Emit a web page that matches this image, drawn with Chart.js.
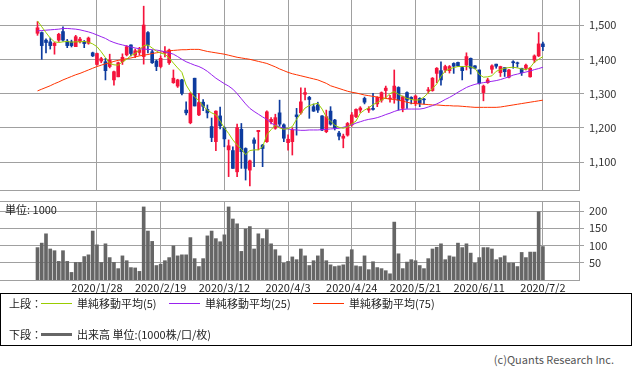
<!DOCTYPE html>
<html>
<head>
<meta charset="utf-8">
<script src="https://cdn.jsdelivr.net/npm/chart.js@4.4.1/dist/chart.umd.min.js"></script>
<style>
  body { margin: 0; background: #fff; font-family: "Noto Sans CJK JP", "Noto Sans", sans-serif; }
  #wrap { position: relative; width: 633px; height: 374px; overflow: hidden; }
  canvas { position: absolute; left: 0; }
  #priceChart { top: 0; }
  #volChart { top: 195px; }
  .txt { position: absolute; font-size: 11px; line-height: 14px; color: #222; white-space: nowrap; }
  .legend { position: absolute; left: 0; top: 293px; width: 630px; height: 51px; border: 1px solid #000; }
  .swatch { position: absolute; width: 31px; height: 1px; }
  .copy { position: absolute; right: 19px; top: 351px; font-size: 11px; color: #555; }
</style>
</head>
<body>
<div id="wrap">
  <canvas id="priceChart" width="633" height="195"></canvas>
  <canvas id="volChart" width="633" height="100"></canvas>
  <div class="txt" style="left:5px;top:202px;">単位: 1000</div>
  <div class="legend">
    <div class="txt" style="left:8px;top:2px;">上段：</div>
    <div class="swatch" style="left:40px;top:9px;background:#99cc00;"></div>
    <div class="txt" style="left:76px;top:2px;">単純移動平均(5)</div>
    <div class="swatch" style="left:168px;top:9px;background:#9922ee;"></div>
    <div class="txt" style="left:204px;top:2px;">単純移動平均(25)</div>
    <div class="swatch" style="left:312px;top:9px;background:#ff3300;"></div>
    <div class="txt" style="left:348px;top:2px;">単純移動平均(75)</div>
    <div class="txt" style="left:8px;top:33px;">下段：</div>
    <div class="swatch" style="left:40px;top:39px;height:3px;background:#666;"></div>
    <div class="txt" style="left:76px;top:33px;">出来高 単位:(1000株/口/枚)</div>
  </div>
  <div class="copy">(c)Quants Research Inc.</div>
</div>
<script>
// daily prices, 2020/1/7 - 2020/7/2
const opens = [1476,1478,1456,1451,1440,1456,1481,1453,1451,1437,1452,1451,1447,1419,1385,1395,1393,1379,1340,1349,
  1393,1413,1442,1412,1420,1408,1478,1422,1395,1379,1418,1390,1332,1322,1340,1252,1215,1345,1238,1275,
  1254,1204,1160,1235,1200,1136,1134,1072,1196,1140,1077,1165,1189,1150,1160,1218,1199,1244,1209,1157,
  1160,1238,1244,1298,1289,1262,1267,1235,1189,1249,1223,1185,1170,1179,1209,1233,1252,1286,1252,1257,
  1270,1281,1309,1285,1286,1318,1257,1303,1289,1272,1286,1284,1309,1309,1359,1367,1369,1367,1388,1391,
  1376,1383,1403,1381,1369,1303,1332,1371,1386,1361,1376,1348,1393,1390,1374,1374,1349,1398,1410,1445];
const highs = [1510,1480,1460,1462,1450,1476,1495,1458,1456,1470,1464,1455,1465,1421,1418,1406,1403,1415,1366,1392,
  1416,1440,1442,1430,1435,1555,1481,1427,1398,1410,1437,1430,1369,1342,1342,1276,1303,1345,1301,1283,
  1267,1229,1250,1261,1203,1165,1145,1211,1213,1142,1106,1171,1193,1152,1250,1230,1240,1281,1212,1180,
  1200,1257,1317,1316,1292,1270,1275,1236,1252,1262,1225,1190,1182,1216,1245,1256,1262,1290,1262,1301,
  1291,1305,1322,1295,1369,1320,1293,1305,1291,1296,1288,1286,1318,1347,1376,1393,1383,1382,1390,1392,
  1379,1419,1404,1382,1369,1325,1345,1384,1386,1380,1376,1371,1396,1392,1374,1386,1376,1413,1478,1450];
const lows = [1470,1400,1419,1430,1415,1452,1453,1434,1436,1437,1448,1434,1444,1408,1383,1390,1340,1375,1325,1349,
  1385,1410,1410,1405,1412,1386,1419,1388,1367,1375,1407,1385,1330,1318,1296,1238,1212,1264,1236,1250,
  1229,1160,1134,1197,1145,1058,1082,1058,1082,1048,1031,1087,1136,1087,1158,1212,1196,1205,1160,1135,
  1121,1179,1240,1282,1228,1248,1245,1192,1186,1208,1194,1165,1142,1176,1205,1230,1245,1270,1245,1252,
  1262,1275,1286,1275,1272,1252,1247,1257,1270,1265,1262,1270,1301,1307,1332,1325,1362,1360,1359,1380,
  1340,1369,1357,1372,1328,1279,1330,1360,1374,1350,1350,1346,1374,1377,1353,1369,1348,1390,1408,1425];
const closes = [1492,1440,1449,1440,1447,1473,1456,1440,1440,1466,1459,1446,1462,1410,1417,1402,1367,1398,1364,1390,
  1406,1437,1417,1425,1428,1500,1442,1390,1379,1403,1421,1427,1345,1340,1301,1244,1301,1264,1274,1263,
  1244,1172,1249,1206,1168,1148,1082,1201,1131,1082,1104,1155,1193,1140,1247,1225,1230,1211,1170,1167,
  1194,1233,1276,1303,1283,1249,1252,1194,1233,1211,1200,1176,1176,1213,1238,1254,1258,1275,1256,1254,
  1289,1303,1316,1287,1322,1281,1291,1281,1285,1293,1272,1282,1311,1345,1374,1340,1379,1379,1380,1381,
  1367,1408,1374,1374,1330,1322,1340,1381,1380,1379,1364,1369,1390,1388,1361,1383,1374,1410,1445,1437];
const volumes = [94,107,134,90,85,54,85,54,22,51,51,68,73,142,102,51,105,65,51,33,
  70,56,36,35,25,212,142,112,42,46,56,65,99,70,73,73,123,62,39,62,
  128,142,120,111,131,212,177,163,83,148,155,90,134,120,146,105,88,70,49,54,
  67,59,90,70,42,56,70,90,56,44,39,41,44,67,88,41,39,70,30,53,
  36,33,27,18,168,76,33,52,59,56,42,33,62,90,95,105,59,70,67,107,
  94,105,78,49,65,94,94,90,59,65,70,49,49,39,80,65,81,81,198,97];
const ma5 = [1512,1495,1478,1462,1451,1449,1451,1452,1450,1451,1451,1452,1450,1445,1437,1422,1405,1388,1384,1383,
  1393,1400,1411,1417,1427,1440,1442,1433,1424,1418,1415,1404,1389,1375,1362,1325,1305,1290,1280,1264,
  1252,1244,1238,1220,1200,1184,1165,1150,1138,1122,1134,1136,1136,1145,1180,1195,1208,1200,1196,1198,
  1204,1225,1242,1258,1265,1269,1272,1255,1232,1220,1208,1202,1199,1203,1212,1220,1243,1252,1259,1268,
  1274,1281,1288,1300,1306,1298,1292,1286,1283,1281,1282,1290,1302,1315,1328,1350,1366,1372,1376,1379,
  1379,1379,1378,1374,1356,1348,1349,1352,1365,1370,1374,1376,1377,1375,1372,1370,1376,1392,1400,1408];
const ma25 = [1483,1484,1485,1486,1487,1488,1490,1490,1489,1488,1486,1483,1480,1476,1471,1466,1461,1454,1449,1445,
  1442,1439,1436,1433,1431,1430,1429,1428,1427,1425,1422,1419,1415,1408,1400,1393,1388,1383,1379,1373,
  1365,1355,1345,1337,1329,1322,1313,1300,1285,1270,1257,1248,1240,1232,1225,1214,1208,1203,1199,1197,
  1195,1194,1193,1193,1194,1194,1194,1195,1196,1197,1198,1199,1202,1205,1209,1214,1218,1222,1225,1227,
  1230,1234,1239,1243,1248,1252,1254,1255,1255,1255,1255,1257,1261,1265,1270,1276,1283,1289,1296,1304,
  1311,1318,1323,1327,1330,1332,1334,1336,1338,1341,1345,1349,1354,1357,1360,1363,1366,1370,1373,1377];
const ma75 = [1308,1313,1318,1323,1329,1334,1340,1345,1350,1355,1359,1364,1369,1374,1379,1383,1387,1390,1394,1397,
  1399,1402,1404,1407,1410,1412,1414,1417,1419,1421,1423,1425,1426,1427,1428,1428,1429,1429,1429,1426,
  1423,1421,1419,1417,1415,1412,1409,1406,1404,1402,1400,1397,1394,1391,1388,1383,1378,1372,1367,1362,
  1358,1355,1352,1349,1346,1343,1340,1335,1330,1323,1319,1315,1311,1307,1304,1302,1299,1296,1294,1292,
  1290,1288,1286,1284,1283,1281,1278,1275,1272,1271,1270,1269,1268,1267,1267,1266,1265,1265,1264,1264,
  1263,1262,1261,1260,1260,1260,1260,1260,1260,1261,1263,1265,1267,1269,1271,1273,1275,1277,1279,1281];

const dateTicks = [14, 29, 44, 59, 74, 89, 104, 119];
const dateLabels = ['2020/1/28', '2020/2/19', '2020/3/12', '2020/4/3', '2020/4/24', '2020/5/21', '2020/6/11', '2020/7/2'];
const priceTicks = [1100, 1200, 1300, 1400, 1500];
const volTicks = [50, 100, 150, 200];

const RED = '#f5143c';
const BLUE = '#0d3b9e';
const GRID = '#a0a0a0';
const FONT = '"Noto Sans CJK JP", "Noto Sans", sans-serif';
const X_MIN = -8.83, X_MAX = 127.5;

const idx = closes.map((c, i) => i);
const candleColor = idx.map(i => closes[i] >= opens[i] ? RED : BLUE);

function fixedTicks(values) {
    return function (scale) {
        scale.ticks = values.map(v => ({ value: v }));
    };
}

function maLine(values, color) {
    return {
        type: 'line',
        data: values.map((v, i) => ({ x: i, y: v })),
        borderColor: color,
        borderWidth: 1,
        pointRadius: 0,
        tension: 0,
        order: 0
    };
}

// price panel: candles + moving averages
new Chart(document.getElementById('priceChart'), {
    type: 'bar',
    data: {
        datasets: [
            maLine(ma5, '#99cc00'),
            maLine(ma25, '#9922ee'),
            maLine(ma75, '#ff3300'),
            {
                data: idx.map(i => ({ x: i, y: [opens[i], closes[i]] })),
                backgroundColor: candleColor,
                barThickness: 3,
                grouped: false,
                order: 1
            },
            {
                data: idx.map(i => ({ x: i, y: [lows[i], highs[i]] })),
                backgroundColor: candleColor,
                barThickness: 1,
                grouped: false,
                order: 2
            }
        ]
    },
    options: {
        responsive: false,
        animation: false,
        devicePixelRatio: 1,
        layout: { padding: { left: 0, right: 0, top: 0, bottom: 5 } },
        plugins: { legend: { display: false }, tooltip: { enabled: false } },
        scales: {
            x: {
                type: 'linear',
                offset: false,
                min: X_MIN,
                max: X_MAX,
                afterBuildTicks: fixedTicks(dateTicks),
                afterFit: s => { s.height = 0; },
                grid: { color: GRID, drawTicks: false, offset: false },
                border: { color: GRID },
                ticks: { display: false }
            },
            y: {
                position: 'right',
                min: 1019,
                max: 1573,
                afterBuildTicks: fixedTicks(priceTicks),
                afterFit: s => { s.width = 54; s.paddingTop = 0; s.paddingBottom = 0; },
                grid: { color: GRID, tickLength: 5 },
                border: { color: GRID },
                ticks: {
                    color: '#333',
                    padding: 5,
                    font: { size: 11, family: FONT },
                    callback: v => v.toLocaleString('en-US')
                }
            }
        }
    }
});

// top frame line of the volume panel
const frameTop = {
    id: 'frameTop',
    afterDraw(chart) {
        const { ctx, chartArea: a } = chart;
        ctx.save();
        ctx.strokeStyle = GRID;
        ctx.lineWidth = 1;
        ctx.beginPath();
        ctx.moveTo(a.left, Math.round(a.top) + 0.5);
        ctx.lineTo(a.right, Math.round(a.top) + 0.5);
        ctx.stroke();
        ctx.restore();
    }
};

// volume panel
new Chart(document.getElementById('volChart'), {
    type: 'bar',
    data: {
        datasets: [{
            data: idx.map(i => ({ x: i, y: volumes[i] })),
            backgroundColor: '#666666',
            barThickness: 3
        }]
    },
    options: {
        responsive: false,
        animation: false,
        devicePixelRatio: 1,
        layout: { padding: { left: 0, right: 0, top: 6, bottom: 0 } },
        plugins: { legend: { display: false }, tooltip: { enabled: false } },
        scales: {
            x: {
                type: 'linear',
                offset: false,
                min: X_MIN,
                max: X_MAX,
                afterBuildTicks: fixedTicks(dateTicks),
                afterFit: s => { s.height = 15; s.paddingLeft = 0; s.paddingRight = 0; },
                grid: { color: GRID, drawTicks: false, offset: false },
                border: { color: GRID },
                ticks: {
                    color: '#222',
                    padding: 1,
                    maxRotation: 0,
                    autoSkip: false,
                    font: { size: 11, family: FONT },
                    callback: v => dateLabels[dateTicks.indexOf(v)]
                }
            },
            y: {
                position: 'right',
                min: 0,
                max: 229.2,
                afterBuildTicks: fixedTicks(volTicks),
                afterFit: s => { s.width = 54; s.paddingTop = 0; s.paddingBottom = 0; },
                grid: { color: GRID, tickLength: 5 },
                border: { color: GRID },
                ticks: {
                    color: '#333',
                    padding: 5,
                    font: { size: 11, family: FONT }
                }
            }
        }
    },
    plugins: [frameTop]
});
</script>
</body>
</html>
